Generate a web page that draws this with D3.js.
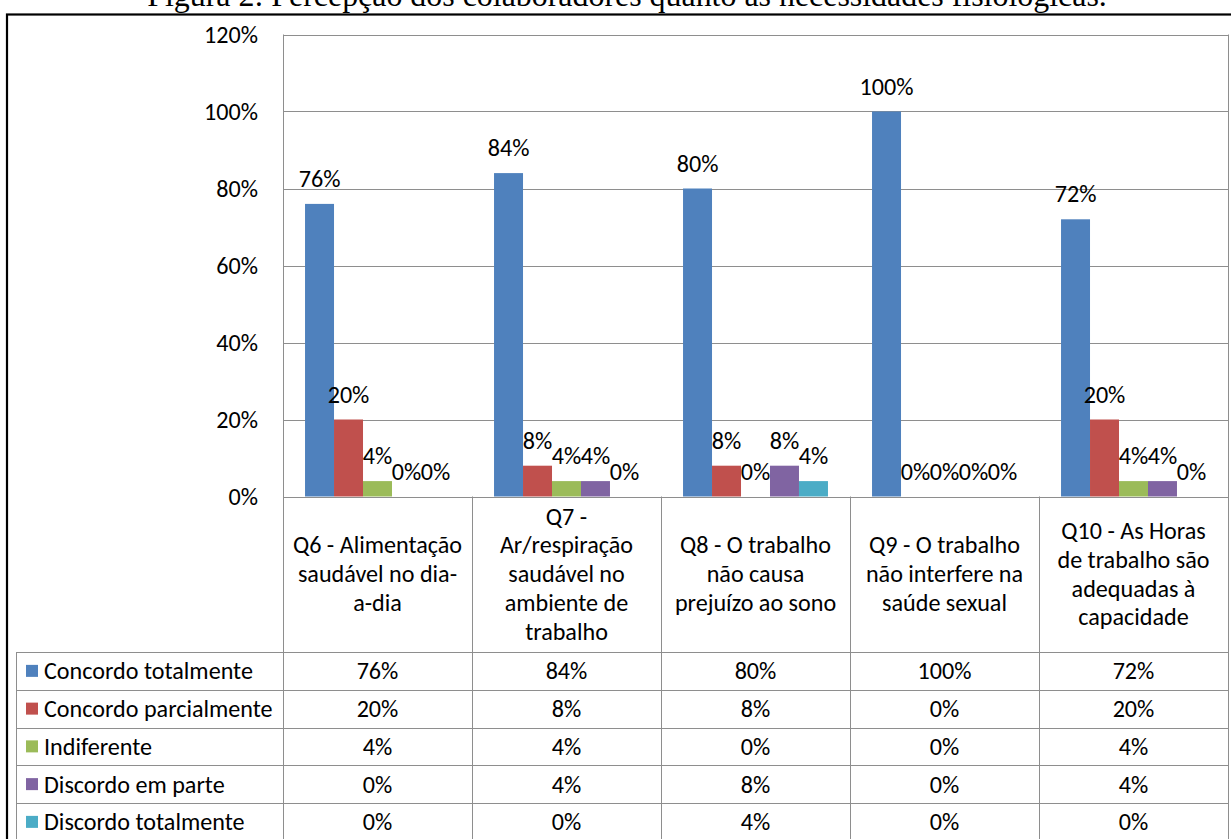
<!DOCTYPE html>
<html>
<head>
<meta charset="utf-8">
<script src="https://cdn.jsdelivr.net/npm/d3@7"></script>
<style>
  html, body { margin: 0; padding: 0; background: #fff; overflow: hidden; }
  svg { display: block; }
</style>
</head>
<body>
<svg id="chart" width="1231" height="839"></svg>
<script>
// ---------- DATA ----------
const title = "Figura 2: Percepção dos colaboradores quanto às necessidades fisiológicas.";
const categories = ["Q6", "Q7", "Q8", "Q9", "Q10"];
const categoryLines = [
  ["Q6 - Alimentação", "saudável no dia-", "a-dia"],
  ["Q7 -", "Ar/respiração", "saudável no", "ambiente de", "trabalho"],
  ["Q8 - O trabalho", "não causa", "prejuízo ao sono"],
  ["Q9 - O trabalho", "não interfere na", "saúde sexual"],
  ["Q10 - As Horas", "de trabalho são", "adequadas à", "capacidade"]
];
const seriesNames = ["Concordo totalmente", "Concordo parcialmente", "Indiferente", "Discordo em parte", "Discordo totalmente"];
const concordoTotalmente   = [76, 84, 80, 100, 72];
const concordoParcialmente = [20, 8, 8, 0, 20];
const indiferente          = [4, 4, 0, 0, 4];
const discordoEmParte      = [0, 4, 8, 0, 4];
const discordoTotalmente   = [0, 0, 4, 0, 0];
const seriesValues = [concordoTotalmente, concordoParcialmente, indiferente, discordoEmParte, discordoTotalmente];
const seriesColors = ["#4F81BD", "#C0504D", "#9BBB59", "#8064A2", "#4BACC6"];
const yTicks = [0, 20, 40, 60, 80, 100, 120];

// ---------- LAYOUT ----------
const svg = d3.select("#chart");
const FONT = "Carlito, Calibri, Lato, sans-serif";
const gridColor = "#8e8e8e";
const plotLeft = 283, plotRight = 1228, plotTop = 34.5, plotBottom = 496.5;
const tableLeft = 16, tableTop = 652, rowH = 37.75;

// font size calibration: "Concordo totalmente" spans ~209px in reference
const probe = svg.append("text").attr("font-family", FONT).attr("font-size", 100).text("Concordo totalmente");
const probeLen = probe.node().getComputedTextLength();
probe.remove();
const fs = 209 / probeLen * 100;

// title calibration (serif, spans ~960px)
const tprobe = svg.append("text").attr("font-family", "'Liberation Serif', 'Times New Roman', serif").attr("font-size", 100).text(title);
const tLen = tprobe.node().getComputedTextLength();
tprobe.remove();
const tfs = 960 / tLen * 100;

svg.append("text")
  .attr("x", 627).attr("y", 6)
  .attr("text-anchor", "middle")
  .attr("font-family", "'Liberation Serif', 'Times New Roman', serif")
  .attr("font-size", tfs)
  .attr("fill", "#000")
  .text(title);

// outer border
svg.append("rect")
  .attr("x", 7).attr("y", 14.5).attr("width", 1240).attr("height", 900)
  .attr("fill", "none").attr("stroke", "#000").attr("stroke-width", 2.2);

// scales
const x0 = d3.scaleBand().domain(categories).range([plotLeft, plotRight]);
const x1 = d3.scaleBand().domain(seriesNames).range([0, x0.bandwidth()]).paddingInner(0).paddingOuter(0.76);
const y = d3.scaleLinear().domain([0, 120]).range([plotBottom, plotTop]);
const rowY = d3.scaleBand().domain(seriesNames).range([tableTop, tableTop + rowH * seriesNames.length]);

// gridlines
svg.append("g").selectAll("line").data(yTicks).join("line")
  .attr("x1", plotLeft).attr("x2", plotRight)
  .attr("y1", d => Math.round(y(d)) + 0.5).attr("y2", d => Math.round(y(d)) + 0.5)
  .attr("stroke", gridColor).attr("stroke-width", 1);

// y axis labels
svg.append("g").selectAll("text").data(yTicks).join("text")
  .attr("x", 258).attr("y", d => y(d))
  .attr("dy", "0.35em")
  .attr("text-anchor", "end")
  .attr("font-family", FONT).attr("font-size", fs).attr("fill", "#000")
  .text(d => d + "%");

// bars
const flat = [];
seriesNames.forEach((s, si) => {
  categories.forEach((c, ci) => {
    flat.push({ s, si, c, v: seriesValues[si][ci] });
  });
});

svg.append("g").selectAll("rect").data(flat.filter(d => d.v > 0)).join("rect")
  .attr("x", d => x0(d.c) + x1(d.s))
  .attr("y", d => y(d.v))
  .attr("width", x1.bandwidth())
  .attr("height", d => y(0) - y(d.v))
  .attr("fill", d => seriesColors[d.si]);

// data labels
svg.append("g").selectAll("text").data(flat).join("text")
  .attr("x", d => x0(d.c) + x1(d.s) + x1.bandwidth() / 2)
  .attr("y", d => y(d.v) - 17)
  .attr("text-anchor", "middle")
  .attr("font-family", FONT).attr("font-size", fs).attr("fill", "#000")
  .text(d => d.v + "%");

// table lines
const tableBottom = tableTop + rowH * seriesNames.length;
const tl = svg.append("g").attr("stroke", gridColor).attr("stroke-width", 1);
// horizontal row lines
const rowEdges = seriesNames.map(s => rowY(s)).concat([tableBottom]);
tl.selectAll("line.h").data(rowEdges).join("line").attr("class", "h")
  .attr("x1", tableLeft).attr("x2", plotRight)
  .attr("y1", d => Math.round(d) + 0.5).attr("y2", d => Math.round(d) + 0.5);
// vertical: left of legend column
tl.append("line").attr("x1", tableLeft + 0.5).attr("x2", tableLeft + 0.5)
  .attr("y1", tableTop).attr("y2", tableBottom);
// plot left & right border
tl.append("line").attr("x1", plotLeft + 0.5).attr("x2", plotLeft + 0.5)
  .attr("y1", plotTop).attr("y2", tableBottom);
tl.append("line").attr("x1", plotRight + 0.5).attr("x2", plotRight + 0.5)
  .attr("y1", plotTop).attr("y2", tableBottom);
// category dividers
tl.selectAll("line.v").data(categories.slice(1)).join("line").attr("class", "v")
  .attr("x1", d => Math.round(x0(d)) + 0.5).attr("x2", d => Math.round(x0(d)) + 0.5)
  .attr("y1", plotBottom).attr("y2", tableBottom);

// category labels
const lineH = 28.7;
const headCenter = (plotBottom + tableTop) / 2 - 0.5;
categories.forEach((c, ci) => {
  const lines = categoryLines[ci];
  const t = svg.append("text")
    .attr("text-anchor", "middle")
    .attr("font-family", FONT).attr("font-size", fs).attr("fill", "#000");
  lines.forEach((ln, li) => {
    t.append("tspan")
      .attr("x", x0(c) + x0.bandwidth() / 2)
      .attr("y", headCenter + (li - (lines.length - 1) / 2) * lineH)
      .attr("dy", "0.35em")
      .text(ln);
  });
});

// legend rows
seriesNames.forEach((s, si) => {
  const cy = rowY(s) + rowH / 2;
  svg.append("rect")
    .attr("x", 26).attr("y", cy - 6).attr("width", 12).attr("height", 12)
    .attr("fill", seriesColors[si]);
  svg.append("text")
    .attr("x", 44).attr("y", cy).attr("dy", "0.35em")
    .attr("font-family", FONT).attr("font-size", fs).attr("fill", "#000")
    .text(s);
  categories.forEach((c, ci) => {
    svg.append("text")
      .attr("x", x0(c) + x0.bandwidth() / 2)
      .attr("y", cy).attr("dy", "0.35em")
      .attr("text-anchor", "middle")
      .attr("font-family", FONT).attr("font-size", fs).attr("fill", "#000")
      .text(seriesValues[si][ci] + "%");
  });
});
</script>
</body>
</html>
